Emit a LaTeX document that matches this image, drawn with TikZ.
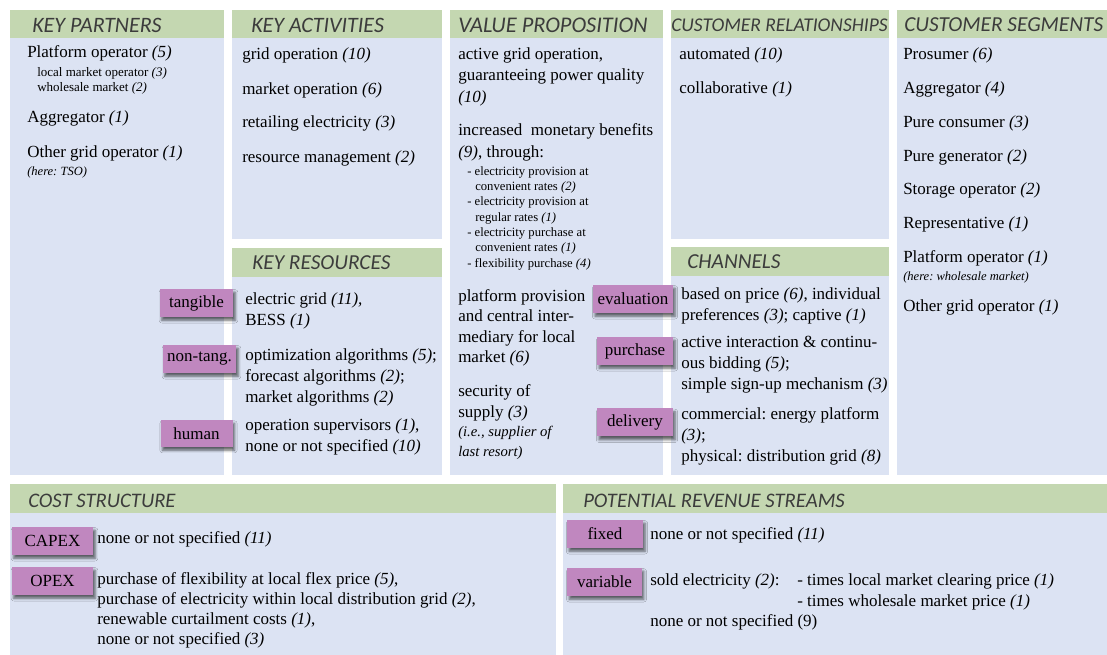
\documentclass[tikz,border=0pt]{standalone}
\usepackage{fontspec}
\setmainfont{Liberation Serif}
\newfontfamily\hdrfont{Carlito}
\usetikzlibrary{shadows.blur}
\definecolor{hdrgreen}{HTML}{C4D7B1}
\definecolor{bodyblue}{HTML}{DCE3F3}
\definecolor{tagpink}{HTML}{C087BF}
\definecolor{hdrtext}{HTML}{3C3C3C}
\begin{document}
\frenchspacing
\begin{tikzpicture}[x=0.75pt,y=-0.75pt,
 every node/.append style={execute at begin node=\frenchspacing},
 hdr/.style={anchor=west,inner sep=0pt,text=hdrtext,font=\hdrfont\itshape\fontsize{16.5}{19}\selectfont},
 hdrm/.style={hdr,font=\hdrfont\itshape\fontsize{16}{19}\selectfont},
 hdrb/.style={hdr,font=\hdrfont\itshape\fontsize{15.5}{19}\selectfont},
 txt/.style={anchor=west,inner sep=0pt,align=left,font=\fontsize{12.75}{15.75}\selectfont},
 sm/.style={anchor=west,inner sep=0pt,align=left,font=\fontsize{9.75}{11.25}\selectfont},
 smit/.style={anchor=west,inner sep=0pt,align=left,font=\itshape\fontsize{9.4}{11}\selectfont},
 tagbox/.style={fill=tagpink,inner sep=0pt,minimum height=21pt,font=\fontsize{12.75}{15}\selectfont,
   blur shadow={shadow xshift=1.5pt,shadow yshift=-2.5pt,shadow blur radius=2pt,shadow opacity=60}},
]
\useasboundingbox (0,0) rectangle (1107,655);
\fill[white] (0,0) rectangle (1107,655);
% panels
\fill[bodyblue] (10,38) rectangle (224,475);   \fill[hdrgreen] (10,10) rectangle (224,38);
\fill[bodyblue] (232,38) rectangle (442,239);  \fill[hdrgreen] (232,10) rectangle (442,38);
\fill[bodyblue] (232,277) rectangle (442,475); \fill[hdrgreen] (232,248) rectangle (442,277);
\fill[bodyblue] (450,38) rectangle (663,475);  \fill[hdrgreen] (450,10) rectangle (663,38);
\fill[bodyblue] (671,38) rectangle (889,239);  \fill[hdrgreen] (671,10) rectangle (889,38);
\fill[bodyblue] (671,276) rectangle (889,475); \fill[hdrgreen] (671,247) rectangle (889,276);
\fill[bodyblue] (897,38) rectangle (1107,475); \fill[hdrgreen] (897,10) rectangle (1107,38);
\fill[bodyblue] (10,513) rectangle (556,655);  \fill[hdrgreen] (10,484) rectangle (556,513);
\fill[bodyblue] (563,513) rectangle (1107,655);\fill[hdrgreen] (563,484) rectangle (1107,513);
% headers
\node[hdr] (hkp) at (32,25) {KEY PARTNERS};
\node[hdr] (hka) at (251,25) {KEY ACTIVITIES};
\node[hdr,font=\hdrfont\itshape\fontsize{16.8}{19}\selectfont] (hvp) at (458,25) {VALUE PROPOSITION};
\node[hdr,font=\hdrfont\itshape\fontsize{14.6}{19}\selectfont] (hcr) at (671,25) {CUSTOMER RELATIONSHIPS};
\node[hdr,font=\hdrfont\itshape\fontsize{16}{19}\selectfont] (hcs) at (904,25) {CUSTOMER SEGMENTS};
\node[hdrm] (hkr) at (252,263) {KEY RESOURCES};
\node[hdrm] (hch) at (687,262) {CHANNELS};
\node[hdrb] (hco) at (28,501) {COST STRUCTURE};
\node[hdrb] (hrv) at (583,501) {POTENTIAL REVENUE STREAMS};
% key partners
\node[txt] (kp1) at (27,53) {Platform operator \textit{(5)}};
\node[sm] (kp2) at (37,80.5) {local market operator \textit{(3)}\\wholesale market \textit{(2)}};
\node[txt] (kp3) at (27,118) {Aggregator \textit{(1)}};
\node[txt] (kp4) at (27,153) {Other grid operator \textit{(1)}};
\node[smit] (kp5) at (27,172) {(here: TSO)};
% key activities
\node[txt] (ka1) at (242,55) {grid operation \textit{(10)}};
\node[txt] (ka2) at (242,90) {market operation \textit{(6)}};
\node[txt] (ka3) at (242,123) {retailing electricity \textit{(3)}};
\node[txt] (ka4) at (242,158) {resource management \textit{(2)}};
% value proposition
\node[txt,font=\fontsize{12.75}{16.1}\selectfont] (vp1) at (458,76.5) {active grid operation,\\guaranteeing power quality\\\textit{(10)}};
\node[txt,font=\fontsize{12.75}{16.1}\selectfont] (vp2) at (458,142.5) {increased~ monetary benefits\\\textit{(9)}, through:};
\node[sm,font=\fontsize{9.5}{11.5}\selectfont] (vp3) at (467,218) {- electricity provision at\\\hspace*{6pt}convenient rates \textit{(2)}\\- electricity provision at\\\hspace*{6pt}regular rates \textit{(1)}\\- electricity purchase at\\\hspace*{6pt}convenient rates \textit{(1)}\\- flexibility purchase \textit{(4)}};
\node[txt,font=\fontsize{12.75}{15.4}\selectfont] (vp4) at (458,328) {platform provision\\and central inter-\\mediary for local\\market \textit{(6)}};
\node[txt] (vp5) at (458,402.5) {security of\\supply \textit{(3)}};
\node[txt,font=\itshape\fontsize{11}{15}\selectfont] (vp6) at (458,443) {(i.e., supplier of\\last resort)};
% customer relationships
\node[txt] (cr1) at (679,55) {automated \textit{(10)}};
\node[txt] (cr2) at (679,89) {collaborative \textit{(1)}};
% customer segments
\node[txt] (cs1) at (903,55) {Prosumer \textit{(6)}};
\node[txt] (cs2) at (903,89) {Aggregator \textit{(4)}};
\node[txt] (cs3) at (903,123) {Pure consumer \textit{(3)}};
\node[txt] (cs4) at (903,157) {Pure generator \textit{(2)}};
\node[txt] (cs5) at (903,190) {Storage operator \textit{(2)}};
\node[txt] (cs6) at (903,224) {Representative \textit{(1)}};
\node[txt] (cs7) at (903,258) {Platform operator \textit{(1)}};
\node[smit] (cs8) at (903,277) {(here: wholesale market)};
\node[txt] (cs9) at (903,307) {Other grid operator \textit{(1)}};
% key resources
\node[tagbox,minimum width=55pt] (tg1) at (196.5,303) {tangible};
\node[tagbox,minimum width=55pt] (tg2) at (199.5,359) {non-tang.};
\node[tagbox,minimum width=54pt,minimum height=20pt] (tg3) at (196.5,433.5) {human};
\node[txt] (kr1) at (245,310.5) {electric grid \textit{(11),}\\BESS \textit{(1)}};
\node[txt] (kr2) at (245,377) {optimization algorithms \textit{(5)};\\forecast algorithms \textit{(2)};\\market algorithms \textit{(2)}};
\node[txt] (kr3) at (245,437) {operation supervisors \textit{(1)},\\none or not specified \textit{(10)}};
% channels
\node[tagbox,minimum width=60pt] (tg4) at (633,299) {evaluation};
\node[tagbox,minimum width=57pt] (tg5) at (635,351) {purchase};
\node[tagbox,minimum width=57pt] (tg6) at (635,422.5) {delivery};
\node[txt] (ch1) at (681,305.5) {based on price \textit{(6)}, individual\\preferences \textit{(3)}; captive \textit{(1)}};
\node[txt] (ch2) at (681,365) {active interaction \& continu-\\ous bidding \textit{(5)};\\simple sign-up mechanism \textit{(3)}};
\node[txt] (ch3) at (681,436) {commercial: energy platform\\\textit{(3)};\\physical: distribution grid \textit{(8)}};
% cost structure
\node[tagbox,minimum width=61pt] (tg7) at (52.5,541) {CAPEX};
\node[tagbox,minimum width=61pt] (tg8) at (52.5,581) {OPEX};
\node[txt] (co1) at (97,539) {none or not specified \textit{(11)}};
\node[txt,font=\fontsize{12.75}{15}\selectfont] (co2) at (97,610) {purchase of flexibility at local flex price \textit{(5)},\\purchase of electricity within local distribution grid \textit{(2)},\\renewable curtailment costs \textit{(1)},\\none or not specified \textit{(3)}};
% revenue streams
\node[tagbox,minimum width=57pt] (tg9) at (605,534) {fixed};
\node[tagbox,minimum width=56pt] (tg10) at (604.5,582) {variable};
\node[txt] (rv1) at (650,535) {none or not specified \textit{(11)}};
\node[txt] (rv2) at (650,581) {sold electricity \textit{(2)}:};
\node[txt] (rv3) at (797,591.5) {- times local market clearing price \textit{(1)}\\- times wholesale market price \textit{(1)}};
\node[txt] (rv4) at (650,622) {none or not specified (9)};
\end{tikzpicture}
\end{document}
